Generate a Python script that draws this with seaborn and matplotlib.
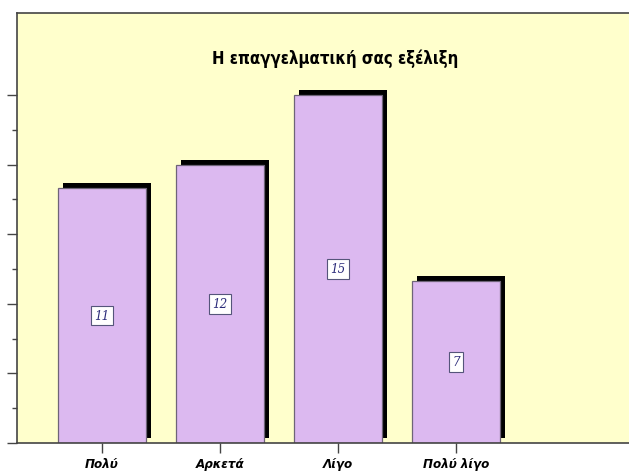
import matplotlib
matplotlib.use("Agg")
import matplotlib.pyplot as plt
import matplotlib.patheffects as pe
from matplotlib.ticker import FixedLocator
import seaborn as sns

categories = ["Πολύ", "Αρκετά", "Λίγο", "Πολύ λίγο"]
values = [11, 12, 15, 7]
title = "Η επαγγελματική σας εξέλιξη"

sns.set_theme(style="white")
plt.rcParams["font.family"] = ["DejaVu Sans"]
plt.rcParams["font.stretch"] = "condensed"

fig = plt.figure(figsize=(6.29, 4.77), dpi=100, facecolor="white")
ax = fig.add_axes([17 / 629, 33 / 477, 612 / 629, 430 / 477])
ax.set_facecolor("#ffffcc")

sns.barplot(x=categories, y=values, color="#dcb9f0", saturation=1, width=0.746,
            edgecolor="#6e6478", linewidth=0.9, ax=ax, zorder=2)

# black drop shadow offset up and to the right
for p in ax.patches:
    p.set_path_effects([pe.SimplePatchShadow(offset=(3.3, 3.3), shadow_rgbFace="black",
                                             alpha=1.0), pe.Normal()])

ax.bar_label(ax.containers[0], label_type="center", fontsize=9.5, fontstyle="italic",
             family=["DejaVu Serif"], color="#2b2b7a",
             bbox=dict(boxstyle="square,pad=0.25", fc="white", ec="#55557a", lw=0.8))

ax.set_xlim(-0.72, 4.466)
ax.set_ylim(0, 18.53)

ax.yaxis.set_major_locator(FixedLocator([0, 3, 6, 9, 12, 15]))
ax.yaxis.set_minor_locator(FixedLocator([1.5, 4.5, 7.5, 10.5, 13.5]))
ax.tick_params(axis="y", which="major", direction="out", length=7, width=1, color="#444444",
               left=True, labelleft=False)
ax.tick_params(axis="y", which="minor", direction="out", length=3.6, width=1, color="#444444",
               left=True)
ax.tick_params(axis="x", direction="out", length=7, width=1, color="#444444", bottom=True,
               pad=3)
for lab in ax.get_xticklabels():
    lab.set_fontstyle("italic")
    lab.set_fontweight("bold")
    lab.set_fontsize(9.5)
    lab.set_fontstretch("condensed")
    lab.set_color("black")

for s in ["left", "bottom", "top"]:
    ax.spines[s].set_color("#444444")
    ax.spines[s].set_linewidth(1.2)
ax.spines["right"].set_visible(False)

ax.text(0.52, 0.895, title, transform=ax.transAxes, ha="center", va="center",
        fontsize=12, fontweight="bold", fontstretch="condensed", color="black")

fig.savefig("out.png", dpi=100, facecolor="white")
